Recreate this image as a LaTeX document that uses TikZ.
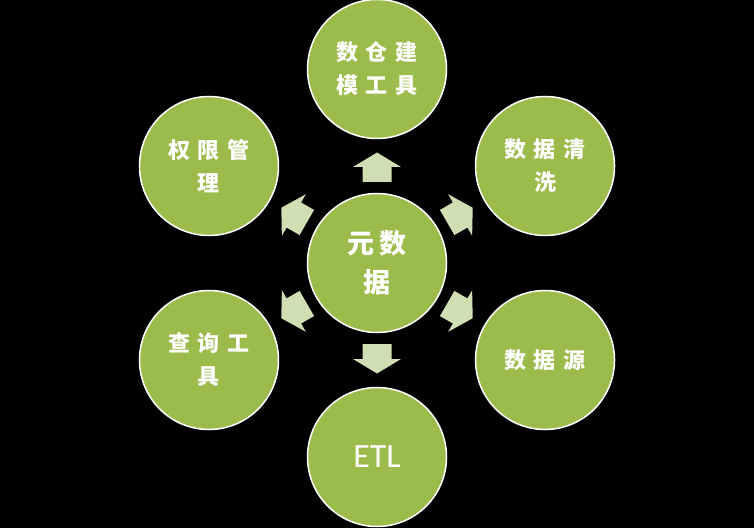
\documentclass[tikz,border=0pt]{standalone}
\usepackage{fontspec}
\newfontfamily\cjk{Noto Sans CJK SC}
\newfontfamily\etlfont{Carlito}
\definecolor{circfill}{HTML}{9BBB4A}
\definecolor{arrfill}{HTML}{D0DEB4}
\tikzset{
  bubble/.style={circle, fill=circfill, draw=white, line width=1.5pt, minimum size=139pt,
    inner sep=0pt, text=white, align=center, font=\cjk\bfseries\fontsize{22}{33}\selectfont},
  hub/.style={bubble, font=\cjk\bfseries\fontsize{27}{39}\selectfont},
  etl/.style={bubble, font=\etlfont\fontsize{34}{40}\selectfont},
  blockarrow/.pic={\fill[arrfill] (-15,-14.5) -- (0,-14.5) -- (0,-24) -- (14.5,0) -- (0,24) -- (0,14.5) -- (-15,14.5) -- cycle;}
}
\newcommand{\ks}{\hspace{7.5pt}}
\newcommand{\kb}{\hspace{6pt}}
\begin{document}
\begin{tikzpicture}[x=1pt,y=1pt]
\fill[black] (0,0) rectangle (754,528);
\useasboundingbox (0,0) rectangle (754,528);
\coordinate (o) at (377,265);
\node[hub] (c) at (o) {元\kb 数\\据};
\node[bubble] (top) at ([shift={(90:194)}]o) {数\ks 仓\ks 建\\模\ks 工\ks 具};
\node[bubble] (tr) at ([shift={(30:194)}]o) {数\ks 据\ks 清\\洗};
\node[bubble] (br) at ([shift={(-30:194)}]o) {数\ks 据\ks 源};
\node[etl] (bot) at ([shift={(-90:194)}]o) {ETL};
\node[bubble] (bl) at ([shift={(210:194)}]o) {查\ks 询\ks 工\\具};
\node[bubble] (tl) at ([shift={(150:194)}]o) {权\ks 限\ks 管\\理};
\foreach \a/\n in {90/a1,30/a2,-30/a3,-90/a4,210/a5,150/a6}{
  \path (o) ++(\a:96) pic[rotate=\a] (\n) {blockarrow};
}
\end{tikzpicture}
\end{document}
